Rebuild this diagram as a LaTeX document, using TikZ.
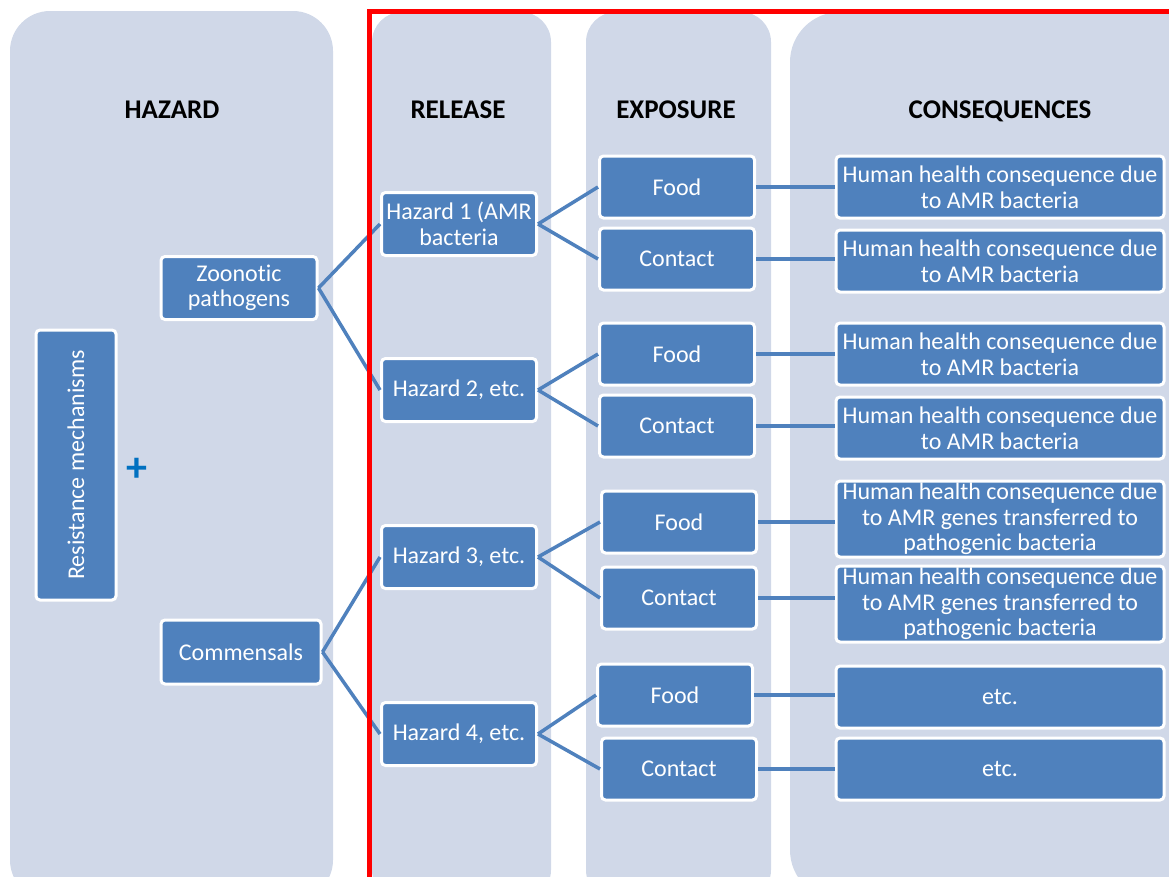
\documentclass[tikz,border=0pt]{standalone}
\usepackage{fontspec}
\setmainfont{Carlito}[Ligatures=NoCommon]
\usetikzlibrary{positioning}
\definecolor{colbg}{HTML}{D0D8E8}
\definecolor{boxblue}{HTML}{4F81BD}
\definecolor{plusblue}{HTML}{0070C0}
\tikzset{
  box/.style={draw=white, line width=3pt, fill=boxblue, rounded corners=4pt,
    text=white, align=center, inner sep=0pt, font=\fontsize{24}{25.5}\selectfont},
  pathbox/.style={box, minimum width=156pt, minimum height=63pt},
  expbox/.style={box, minimum width=155pt, minimum height=62pt},
  consbox/.style={box, minimum width=328pt, minimum height=62pt},
  link/.style={draw=boxblue, line width=3.5pt},
  colhead/.style={anchor=base, font=\fontsize{27}{28}\selectfont\bfseries},
}

\begin{document}
\begin{tikzpicture}[x=1pt,y=-1pt]
    \useasboundingbox (0,0) rectangle (1169,876);
    \clip (0,0) rectangle (1169,876);
    % Columns
    \fill[colbg, rounded corners=40pt] (10,11) rectangle (333,900);
    \fill[colbg, rounded corners=30pt] (372,12) rectangle (551,900);
    \fill[colbg, rounded corners=30pt] (586,12) rectangle (771,900);
    \fill[colbg, rounded corners=50pt] (790,12) rectangle (1230,900);
    % Column headings
    \node[colhead] (hhazard) at (172,118) {HAZARD};
    \node[colhead] (hrelease) at (458,118) {RELEASE};
    \node[colhead] (hexposure) at (676,118) {EXPOSURE};
    \node[colhead] (hcons) at (1000,118) {CONSEQUENCES};
    % Hazard column
    \node[box, rotate=90, minimum width=270pt, minimum height=80pt] (resist) at (76,465) {Resistance mechanisms};
    \node[text=plusblue, font=\fontsize{42}{42}\selectfont\bfseries] (plus) at (137,470) {+};
    \node[pathbox] (zoon) at (239,288) {Zoonotic\\pathogens};
    \node[pathbox, minimum width=160pt, minimum height=64pt] (comm) at (241,652) {Commensals};
    % Release column
    \node[pathbox, minimum width=155pt] (haz1) at (459,224) {Hazard 1 (AMR\\bacteria};
    \node[pathbox, minimum width=155pt] (haz2) at (459,390) {Hazard 2, etc.};
    \node[pathbox, minimum width=155pt] (haz3) at (459,557) {Hazard 3, etc.};
    \node[pathbox, minimum width=155pt] (haz4) at (459,734) {Hazard 4, etc.};
    % Exposure column
    \node[expbox] (food1) at (677,187) {Food};
    \node[expbox] (cont1) at (677,259) {Contact};
    \node[expbox] (food2) at (677,354) {Food};
    \node[expbox] (cont2) at (677,426) {Contact};
    \node[expbox] (food3) at (679,522) {Food};
    \node[expbox] (cont3) at (679,598) {Contact};
    \node[expbox] (food4) at (675,695) {Food};
    \node[expbox] (cont4) at (679,769) {Contact};
    % Consequences column
    \node[consbox] (cons1) at (1000,187) {Human health consequence due\\to AMR bacteria};
    \node[consbox] (cons2) at (1000,261) {Human health consequence due\\to AMR bacteria};
    \node[consbox] (cons3) at (1000,354) {Human health consequence due\\to AMR bacteria};
    \node[consbox] (cons4) at (1000,428) {Human health consequence due\\to AMR bacteria};
    \node[consbox, minimum height=76pt] (cons5) at (1000,519) {Human health consequence due\\to AMR genes transferred to\\pathogenic bacteria};
    \node[consbox, minimum height=76pt] (cons6) at (1000,604) {Human health consequence due\\to AMR genes transferred to\\pathogenic bacteria};
    \node[consbox] (cons7) at (1000,697) {etc.};
    \node[consbox] (cons8) at (1000,769) {etc.};
    % Connectors
    \draw[link] (zoon.east) -- (haz1.west);
    \draw[link] (zoon.east) -- (haz2.west);
    \draw[link] (comm.east) -- (haz3.west);
    \draw[link] (comm.east) -- (haz4.west);
    \foreach \i in {1,...,4} {
      \draw[link] (haz\i.east) -- (food\i.west);
      \draw[link] (haz\i.east) -- (cont\i.west);
    }
    \foreach \e/\c in {food1/cons1,cont1/cons2,food2/cons3,cont2/cons4,food3/cons5,cont3/cons6,food4/cons7,cont4/cons8}
      \draw[link] (\e.east) -- (\c.west |- \e.east);
    % Red frame
    \draw[red, line width=5pt] (369,1000) -- (369,11) -- (1200,11);
\end{tikzpicture}
\end{document}
